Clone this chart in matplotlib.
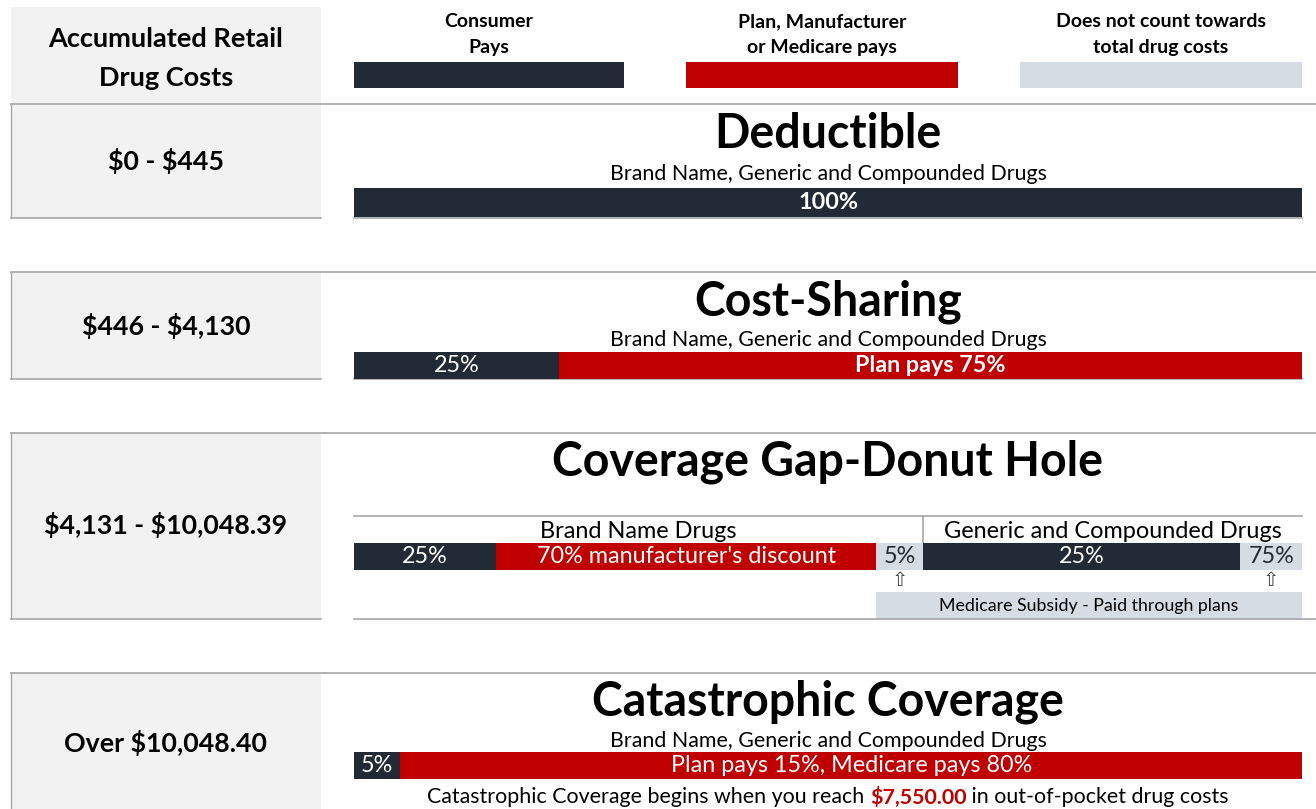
import matplotlib
matplotlib.use('Agg')
import matplotlib.pyplot as plt
from matplotlib.patches import Rectangle

plt.rcParams['font.family'] = ['Lato', 'DejaVu Sans']
plt.rcParams['text.parse_math'] = False

W, H = 1316, 809
DARK = '#222a35'
RED = '#c00000'
LIGHT = '#d6dce4'
BOXGRAY = '#f2f2f2'
LINE = '#a6a6a6'
payer_colors = {'consumer': DARK, 'plan': RED, 'excluded': LIGHT}

# ---- data ----
header_label = 'Accumulated Retail\nDrug Costs'
legend_labels = ['Consumer\nPays', 'Plan, Manufacturer\nor Medicare pays',
                 'Does not count towards\ntotal drug costs']
legend_payers = ['consumer', 'plan', 'excluded']

stage_names = ['Deductible', 'Cost-Sharing', 'Coverage Gap-Donut Hole', 'Catastrophic Coverage']
cost_ranges = ['$0 - $445', '$446 - $4,130', '$4,131 - $10,048.39', 'Over $10,048.40']
all_drugs = 'Brand Name, Generic and Compounded Drugs'
gap_groups = ['Brand Name Drugs', 'Generic and Compounded Drugs']

# segment widths as drawn (share of the bar, %)
deductible_widths = [100]
deductible_labels = ['100%']
deductible_payers = ['consumer']
deductible_bold = [True]

cost_sharing_widths = [21.6, 78.4]
cost_sharing_labels = ['25%', 'Plan pays 75%']
cost_sharing_payers = ['consumer', 'plan']
cost_sharing_bold = [False, True]

gap_widths = [15.0, 40.1, 4.9, 33.5, 6.5]
gap_labels = ['25%', "70% manufacturer's discount", '5%', '25%', '75%']
gap_payers = ['consumer', 'plan', 'excluded', 'consumer', 'excluded']
gap_bold = [False] * 5
subsidy_label = 'Medicare Subsidy - Paid through plans'

catastrophic_widths = [4.9, 95.1]
catastrophic_labels = ['5%', 'Plan pays 15%, Medicare pays 80%']
catastrophic_payers = ['consumer', 'plan']
catastrophic_bold = [False, False]
oop_threshold = '$7,550.00'

# ---- layout ----
fig = plt.figure(figsize=(W / 100, H / 100), dpi=100)
ax = fig.add_axes([0, 0, 1, 1])
ax.set_xlim(0, W)
ax.set_ylim(H, 0)
ax.axis('off')

BX0, BX1 = 354, 1302          # bar span
LX0, LX1 = 11, 321            # left label column
CX = (BX0 + BX1) / 2


def bar_axes(y0, y1):
    b = fig.add_axes([BX0 / W, 1 - y1 / H, (BX1 - BX0) / W, (y1 - y0) / H])
    b.set_xlim(0, 100)
    b.set_ylim(-0.5, 0.5)
    b.axis('off')
    return b


def stacked_bar(y0, y1, widths, labels, payers, bold, size=16.8):
    b = bar_axes(y0, y1)
    left = 0
    for w, lab, p, bd in zip(widths, labels, payers, bold):
        b.barh(0, w, left=left, height=1, color=payer_colors[p], linewidth=0)
        b.text(left + w / 2, 0, lab, ha='center', va='center', fontsize=size,
               color=DARK if p == 'excluded' else 'white',
               fontweight='bold' if bd else 'normal')
        left += w
    return b


# header
ax.add_patch(Rectangle((LX0, 7), LX1 - LX0, 97, facecolor=BOXGRAY, edgecolor='none'))
ax.text((LX0 + LX1) / 2, 58, header_label, ha='center', va='center', fontsize=19.5,
        fontweight='bold', linespacing=1.75)
legend_x = [(354, 624), (686, 958), (1020, 1302)]
for (x0, x1), lab, p in zip(legend_x, legend_labels, legend_payers):
    ax.add_patch(Rectangle((x0, 62), x1 - x0, 26, facecolor=payer_colors[p], edgecolor='none'))
    ax.text((x0 + x1) / 2, 34.5, lab, ha='center', va='center', fontsize=14,
            fontweight='bold', linespacing=1.65)

stage_top = [104, 272, 433, 673]
stage_bot = [218, 379, 619, 809]
title_y = [134, 302, 462, 702]
range_y = [161, 326, 525, 743]

for i in range(4):
    t, bt = stage_top[i], stage_bot[i]
    ax.add_patch(Rectangle((LX0, t), LX1 - LX0, bt - t, facecolor=BOXGRAY, edgecolor='none'))
    ax.plot([LX0, W], [t, t], color=LINE, lw=1.2)
    ax.plot([LX0, LX0], [t, bt], color=LINE, lw=1.0)
    if i < 3:
        ax.plot([LX0, LX1], [bt, bt], color=LINE, lw=1.2)
        ax.plot([BX0, W if i == 2 else BX1], [bt, bt], color=LINE, lw=1.2)
    ax.text((LX0 + LX1) / 2, range_y[i], cost_ranges[i], ha='center', va='center',
            fontsize=19.3, fontweight='bold')
    ax.text(CX, title_y[i], stage_names[i], ha='center', va='center', fontsize=33.5,
            fontweight='bold')

# deductible
ax.text(CX, 174, all_drugs, ha='center', va='center', fontsize=15.4)
stacked_bar(188, 217, deductible_widths, deductible_labels, deductible_payers, deductible_bold)

# cost sharing
ax.text(CX, 340, all_drugs, ha='center', va='center', fontsize=15.4)
stacked_bar(352, 379, cost_sharing_widths, cost_sharing_labels, cost_sharing_payers,
            cost_sharing_bold)

# coverage gap
gb = stacked_bar(543, 570, gap_widths, gap_labels, gap_payers, gap_bold)
split = sum(gap_widths[:3])
ax.plot([BX0, BX1], [516, 516], color=LINE, lw=1.2)
sep_x = BX0 + (BX1 - BX0) * split / 100
ax.plot([sep_x, sep_x], [516, 543], color=LINE, lw=1.2)
ax.text((BX0 + sep_x) / 2, 531, gap_groups[0], ha='center', va='center', fontsize=16.9)
ax.text((sep_x + BX1) / 2, 531, gap_groups[1], ha='center', va='center', fontsize=16.9)
sub_x0 = BX0 + (BX1 - BX0) * sum(gap_widths[:2]) / 100
ax.add_patch(Rectangle((sub_x0, 592), BX1 - sub_x0, 27, facecolor=LIGHT, edgecolor='none'))
ax.text((sub_x0 + BX1) / 2, 605.5, subsidy_label, ha='center', va='center', fontsize=12.8)
for k in (2, 4):
    xc = BX0 + (BX1 - BX0) * (sum(gap_widths[:k]) + gap_widths[k] / 2) / 100
    ax.text(xc, 580, '\u21e7', ha='center', va='center', fontsize=14,
            family='DejaVu Sans', color='#444444')

# catastrophic
ax.text(CX, 741, all_drugs, ha='center', va='center', fontsize=15.4)
stacked_bar(752, 779, catastrophic_widths, catastrophic_labels, catastrophic_payers,
            catastrophic_bold)

parts = [('Catastrophic Coverage begins when you reach ', 'black', 'normal'),
         (oop_threshold, RED, 'bold'),
         (' in out-of-pocket drug costs', 'black', 'normal')]
fig.canvas.draw()
r = fig.canvas.get_renderer()
texts = [ax.text(0, 797, s, ha='left', va='center', fontsize=15.4, color=c, fontweight=fw)
         for s, c, fw in parts]
widths_px = [tx.get_window_extent(r).width for tx in texts]
x = CX - sum(widths_px) / 2
for tx, wpx in zip(texts, widths_px):
    tx.set_x(x)
    x += wpx

fig.savefig('out.png', dpi=100)
